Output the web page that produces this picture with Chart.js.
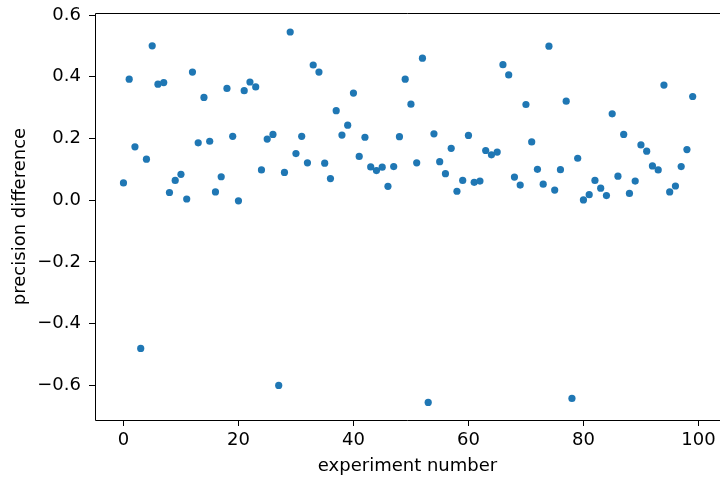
<!DOCTYPE html>
<html>
<head>
<meta charset="utf-8">
<script src="https://cdn.jsdelivr.net/npm/chart.js@4/dist/chart.umd.min.js"></script>
<style>
  html, body { margin: 0; padding: 0; background: #fff; overflow: hidden; }
  #wrap { width: 720px; height: 480px; }
</style>
</head>
<body>
<div id="wrap"><canvas id="chart-scatter"></canvas></div>
<script>
// precision difference per experiment (index = experiment number)
const precisionDiff = [
  0.056, 0.392, 0.173, -0.480, 0.133, 0.500, 0.376, 0.381, 0.025, 0.064,
  0.084, 0.004, 0.415, 0.186, 0.333, 0.191, 0.027, 0.076, 0.362, 0.207,
  -0.002, 0.355, 0.383, 0.367, 0.098, 0.198, 0.213, -0.600, 0.090, 0.545,
  0.151, 0.207, 0.121, 0.438, 0.415, 0.120, 0.070, 0.290, 0.211, 0.243,
  0.347, 0.142, 0.204, 0.108, 0.096, 0.107, 0.045, 0.109, 0.206, 0.392,
  0.311, 0.121, 0.460, -0.655, 0.215, 0.125, 0.086, 0.168, 0.029, 0.064,
  0.210, 0.058, 0.062, 0.161, 0.147, 0.156, 0.439, 0.406, 0.075, 0.049,
  0.310, 0.189, 0.100, 0.052, 0.499, 0.033, 0.099, 0.321, -0.642, 0.136,
  0.001, 0.018, 0.064, 0.039, 0.015, 0.280, 0.078, 0.213, 0.022, 0.062,
  0.179, 0.159, 0.111, 0.098, 0.373, 0.027, 0.046, 0.109, 0.164, 0.336
];
const xTicks = [0, 20, 40, 60, 80, 100];
const yTicks = [-0.6, -0.4, -0.2, 0.0, 0.2, 0.4, 0.6];

const points = precisionDiff.map((v, i) => ({ x: i, y: v }));

Chart.defaults.font.family = `'DejaVu Sans', sans-serif`;
Chart.defaults.font.size = 18;
Chart.defaults.color = `#000`;

// left, bottom and top spines (right one is cut off in the original)
const frame = {
  id: `frame`,
  afterDraw(chart) {
    const { ctx, chartArea: a } = chart;
    ctx.save();
    ctx.strokeStyle = `#000`;
    ctx.lineWidth = 1;
    ctx.beginPath();
    ctx.moveTo(a.right, a.top + 0.5);
    ctx.lineTo(a.left + 0.5, a.top + 0.5);
    ctx.lineTo(a.left + 0.5, a.bottom + 0.5);
    ctx.lineTo(a.right, a.bottom + 0.5);
    ctx.stroke();
    ctx.restore();
  }
};

const fmt = (v) => v.toFixed(1).replace(`-`, `\u2212`);

new Chart(document.getElementById(`chart-scatter`), {
  type: `scatter`,
  data: {
    datasets: [{
      data: points,
      backgroundColor: `#1f77b4`,
      borderWidth: 0,
      pointRadius: 3.6,
    }]
  },
  options: {
    responsive: true,
    maintainAspectRatio: false,
    animation: false,
    layout: { autoPadding: false, padding: { top: 13, right: 0, left: 0, bottom: 0 } },
    plugins: { legend: { display: false }, tooltip: { enabled: false } },
    scales: {
      x: {
        type: `linear`,
        min: -4.95,
        max: 103.75,
        afterFit: (s) => { s.height = 60; s.paddingLeft = 0; s.paddingRight = 0; },
        afterBuildTicks: (s) => { s.ticks = xTicks.map(v => ({ value: v })); },
        border: { display: false },
        grid: { drawOnChartArea: false, color: `#000`, tickLength: 6, tickWidth: 1 },
        ticks: { padding: 4, maxRotation: 0, callback: (v) => String(v) },
        title: { display: true, text: `experiment number`, padding: { top: 0, bottom: 3 } }
      },
      y: {
        type: `linear`,
        min: -0.712,
        max: 0.6065,
        afterFit: (s) => { s.width = 95; s.paddingTop = 0; s.paddingBottom = 0; },
        afterBuildTicks: (s) => { s.ticks = yTicks.map(v => ({ value: v })); },
        border: { display: false },
        grid: { drawOnChartArea: false, color: `#000`, tickLength: 6, tickWidth: 1 },
        ticks: { padding: 8, callback: (v) => fmt(v) },
        title: { display: true, text: `precision difference`, padding: { top: 10, bottom: 0 } }
      }
    }
  },
  plugins: [frame]
});
</script>
</body>
</html>
